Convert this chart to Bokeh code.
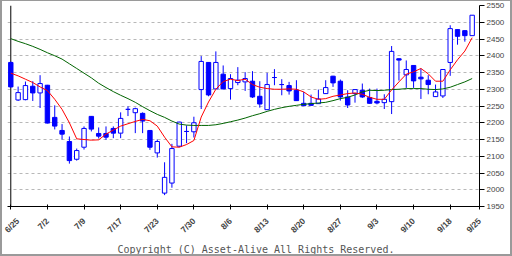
import math
from bokeh.plotting import figure
from bokeh.models import Range1d, FixedTicker, Span, Title, ColumnDataSource
from bokeh.embed import file_html
from bokeh.resources import INLINE

# ---- data ----
opens = [2380, 2268, 2269, 2309, 2289, 2312, 2216, 2177, 2144, 2091,
         2127, 2219, 2168, 2168, 2183, 2169, 2240, 2230, 2228, 2177,
         2110, 1990, 2020, 2130, 2174, 2173, 2299, 2380, 2301, 2345,
         2302, 2320, 2322, 2324, 2279, 2239, 2335, 2314, 2311, 2297,
         2258, 2258, 2257, 2287, 2339, 2324, 2277, 2287, 2297, 2275,
         2264, 2260, 2263, 2391, 2343, 2371, 2336, 2327, 2278, 2280,
         2380, 2478, 2475, 2460]
highs = [2383, 2308, 2323, 2324, 2342, 2313, 2252, 2196, 2159, 2123,
         2189, 2220, 2186, 2189, 2189, 2231, 2249, 2245, 2231, 2178,
         2150, 2082, 2137, 2203, 2192, 2218, 2399, 2381, 2413, 2371,
         2345, 2366, 2351, 2354, 2324, 2349, 2360, 2330, 2322, 2327,
         2292, 2284, 2299, 2327, 2340, 2329, 2297, 2300, 2317, 2302,
         2302, 2285, 2429, 2392, 2386, 2372, 2362, 2342, 2314, 2360,
         2491, 2479, 2476, 2521]
lows = [2305, 2265, 2267, 2265, 2244, 2198, 2180, 2150, 2078, 2087,
        2120, 2174, 2153, 2149, 2154, 2154, 2220, 2169, 2169, 2119,
        2096, 1984, 2006, 2127, 2139, 2156, 2241, 2279, 2300, 2300,
        2269, 2312, 2295, 2274, 2245, 2238, 2312, 2282, 2284, 2265,
        2250, 2251, 2256, 2286, 2307, 2266, 2244, 2260, 2274, 2257,
        2255, 2241, 2226, 2326, 2304, 2304, 2271, 2285, 2277, 2274,
        2340, 2433, 2442, 2459]
closes = [2307, 2290, 2311, 2289, 2317, 2199, 2190, 2166, 2087, 2117,
          2183, 2181, 2160, 2157, 2169, 2213, 2240, 2242, 2205, 2127,
          2144, 2037, 2123, 2202, 2174, 2200, 2383, 2283, 2380, 2301,
          2332, 2327, 2332, 2277, 2256, 2314, 2335, 2314, 2295, 2266,
          2251, 2252, 2271, 2305, 2319, 2277, 2253, 2299, 2277, 2258,
          2259, 2270, 2413, 2387, 2359, 2325, 2331, 2314, 2292, 2359,
          2481, 2458, 2460, 2521]
ma_short = [2348, 2340, 2330, 2320, 2307, 2296, 2270, 2240, 2200, 2152,
            2150, 2148, 2149, 2166, 2178, 2190, 2197, 2204, 2210, 2206,
            2190, 2157, 2128, 2127, 2135, 2147, 2217, 2262, 2300, 2323,
            2330, 2326, 2330, 2314, 2306, 2302, 2300, 2300, 2301, 2300,
            2292, 2277, 2270, 2272, 2279, 2283, 2287, 2289, 2285, 2276,
            2270, 2270, 2298, 2322, 2345, 2352, 2362, 2346, 2324, 2324,
            2358, 2388, 2414, 2454]
ma_long = [2451, 2443, 2436, 2428, 2419, 2409, 2400, 2390, 2376, 2362,
           2348, 2334, 2318, 2305, 2293, 2282, 2272, 2261, 2248, 2236,
           2225, 2216, 2205, 2196, 2193, 2192, 2192, 2192, 2194, 2198,
           2203, 2208, 2214, 2221, 2227, 2234, 2240, 2245, 2249, 2252,
           2255, 2257, 2259, 2261, 2266, 2272, 2276, 2283, 2292, 2297,
           2296, 2297, 2299, 2300, 2302, 2302, 2302, 2300, 2299, 2301,
           2306, 2314, 2322, 2332]
tick_days = [0, 5, 10, 15, 20, 25, 30, 35, 40, 45, 50, 55, 60, 64]
tick_labels = ["6/25", "7/2", "7/9", "7/17", "7/23", "7/30", "8/6", "8/13",
               "8/20", "8/27", "9/3", "9/10", "9/18", "9/25"]
price_ticks = [1950, 2000, 2050, 2100, 2150, 2200, 2250, 2300, 2350, 2400,
               2450, 2500, 2550]

BLUE = "#0000ff"
idx = list(range(len(closes)))
src = ColumnDataSource(dict(
    x=idx, high=highs, low=lows,
    top=[max(o, c) for o, c in zip(opens, closes)],
    bottom=[min(o, c) for o, c in zip(opens, closes)],
    fill=[BLUE if c < o else "white" for o, c in zip(opens, closes)],
))

p = figure(width=512, height=256, output_backend="svg", toolbar_location=None,
           x_range=Range1d(-0.45, 64), y_range=Range1d(price_ticks[0], price_ticks[-1]),
           y_axis_location="right",
           min_border_left=5, min_border_right=35, min_border_top=4, min_border_bottom=51)
p.styles = {"border-style": "solid", "border-color": "#9a9a9a",
            "border-width": "1px 2px 2px 2px", "box-sizing": "border-box"}
p.outline_line_color = None
p.background_fill_color = "white"
p.border_fill_color = "white"

p.xgrid.visible = False
p.ygrid.grid_line_color = "#b8b8b8"
p.ygrid.grid_line_dash = "3 3"
p.ygrid.grid_line_width = 1

p.add_layout(Span(location=0, dimension="height", line_color="black",
                  line_width=1, level="underlay"))

p.segment(x0="x", y0="low", x1="x", y1="high", source=src, line_color=BLUE, line_width=1)
p.vbar(x="x", top="top", bottom="bottom", width=0.6, source=src,
       fill_color="fill", line_color=BLUE, line_width=1)
p.line(idx, ma_long, line_color="#006400", line_width=1)
p.line(idx, ma_short, line_color="#ff0000", line_width=1)

xa = p.xaxis[0]
xa.ticker = FixedTicker(ticks=tick_days)
xa.major_label_overrides = {d: t for d, t in zip(tick_days, tick_labels)}
xa.major_label_orientation = math.pi / 4
xa.major_label_text_font = "Liberation Sans"
xa.major_label_text_font_style = "bold"
xa.major_label_text_font_size = "8.5px"
xa.major_label_standoff = 10
xa.major_tick_in = 2
xa.major_tick_out = 3
xa.minor_tick_out = 0
xa.minor_tick_in = 0
xa.axis_line_color = "black"

ya = p.yaxis[0]
ya.ticker = FixedTicker(ticks=price_ticks)
ya.major_label_text_font = "Liberation Sans"
ya.major_label_text_font_size = "8px"
ya.major_label_standoff = 2
ya.major_tick_in = 0
ya.major_tick_out = 5
ya.minor_tick_out = 0
ya.minor_tick_in = 0
ya.axis_line_color = "black"

p.add_layout(Title(text="Copyright (C) Asset-Alive All Rights Reserved.",
                   align="left", text_font="DejaVu Sans Mono",
                   text_font_size="10px", text_font_style="normal",
                   text_color="#555555", offset=110, standoff=0), "below")

open("out.html", "w").write(file_html(p, INLINE))
